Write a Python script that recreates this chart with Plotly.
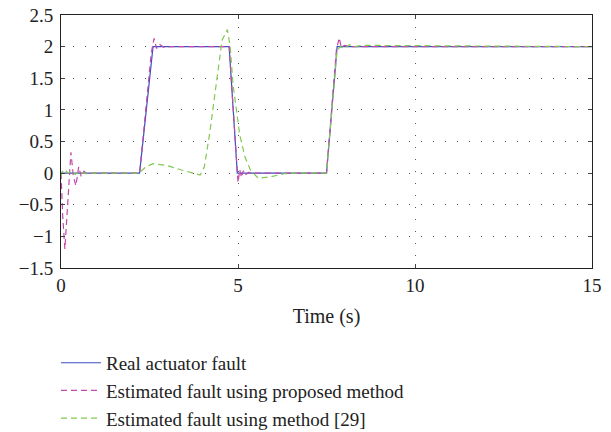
import plotly.graph_objects as go

# Real actuator fault
t_real = [0, 2.22, 2.6, 4.75, 4.98, 7.5, 7.8, 15]
y_real = [0, 0, 2, 2, 0, 0, 2, 2]

# Estimated fault using proposed method
t_prop = [0, 0.05, 0.11, 0.2, 0.28, 0.35, 0.42, 0.5, 0.57, 0.65, 0.75, 0.9,
          2.22, 2.55, 2.63, 2.7, 2.78, 2.9, 3.1, 4.75, 4.97, 5.0, 5.05, 5.1,
          5.15, 5.2, 5.3, 5.5, 7.5, 7.78, 7.86, 7.92, 8.0, 8.2, 15]
y_prop = [0, -0.7, -1.2, -0.4, 0.33, -0.05, -0.2, 0.1, -0.05, 0.03, -0.02, 0,
          0, 1.9, 2.13, 1.97, 2.04, 1.99, 2.0, 2.0, 0.05, -0.15, 0.05, -0.07,
          0.04, -0.03, 0.01, 0, 0, 1.95, 2.14, 1.98, 2.02, 2.0, 2.0]

# Estimated fault using method [29]
t_m29 = [0, 0.03, 0.1, 0.2, 0.3, 0.4, 0.5, 0.6, 0.8, 2.2, 2.4, 2.6, 3.0, 3.4,
         3.93, 4.05, 4.2, 4.4, 4.55, 4.7, 4.78, 4.86, 4.95, 5.05, 5.2, 5.35,
         5.57, 5.9, 6.3, 6.6, 7.5, 7.8, 7.9, 8.0, 8.15, 8.3, 8.5, 15]
y_m29 = [-0.05, 0.02, 0.06, 0.0, 0.04, -0.02, 0.02, 0.0, 0, 0, 0.1, 0.15, 0.12,
         0.05, -0.03, 0.1, 0.63, 1.43, 2.1, 2.27, 2.0, 1.4, 1.0, 0.6, 0.25,
         0.05, -0.08, -0.06, -0.01, 0, 0, 1.95, 2.0, 1.97, 2.03, 2.0, 2.02, 2.0]

x_ticks = [0, 5, 10, 15]
y_ticks = [-1.5, -1, -0.5, 0, 0.5, 1, 1.5, 2, 2.5]
y_tick_text = ["\u22121.5", "\u22121", "\u22120.5", "0", "0.5", "1", "1.5", "2", "2.5"]

FAM = "'Liberation Serif', 'Times New Roman', 'DejaVu Serif', serif"
TXT = "#222222"

fig = go.Figure()
fig.add_trace(go.Scatter(x=t_real, y=y_real, mode="lines", name="Real actuator fault",
                         line=dict(color="#3a4fc0", width=1.2)))
fig.add_trace(go.Scatter(x=t_prop, y=y_prop, mode="lines",
                         name="Estimated fault using proposed method",
                         line=dict(color="#c24aa8", width=1.2, dash="6px,4px")))
fig.add_trace(go.Scatter(x=t_m29, y=y_m29, mode="lines",
                         name="Estimated fault using method [29]",
                         line=dict(color="#82c852", width=1.2, dash="6px,4px")))

fig.update_layout(
    width=611, height=432,
    margin=dict(l=61, r=19, t=15, b=164, autoexpand=False),
    paper_bgcolor="white", plot_bgcolor="white",
    font=dict(family=FAM, size=19, color=TXT),
    showlegend=True,
    legend=dict(x=-0.0095, y=-0.30, xanchor="left", yanchor="top",
                font=dict(family=FAM, size=19, color=TXT), tracegroupgap=0,
                itemwidth=40, bgcolor="rgba(0,0,0,0)"),
)
fig.update_xaxes(range=[0, 15], tickvals=x_ticks, ticks="inside", ticklen=4,
                 showline=True, linecolor="#222", linewidth=1, mirror="ticks",
                 showgrid=True, gridcolor="#555", griddash="1px,11px", gridwidth=1,
                 zeroline=False,
                 title=dict(text="Time (s)", standoff=14, font=dict(family=FAM, size=20, color=TXT)),
                 tickfont=dict(family=FAM, size=19, color=TXT))
fig.update_yaxes(range=[-1.5, 2.5], tickvals=y_ticks, ticktext=y_tick_text,
                 ticks="inside", ticklen=4,
                 showline=True, linecolor="#222", linewidth=1, mirror="ticks",
                 showgrid=True, gridcolor="#555", griddash="1px,11px", gridwidth=1,
                 zeroline=False, ticklabelstandoff=3,
                 tickfont=dict(family=FAM, size=19, color=TXT))

fig.write_html("out.html")
